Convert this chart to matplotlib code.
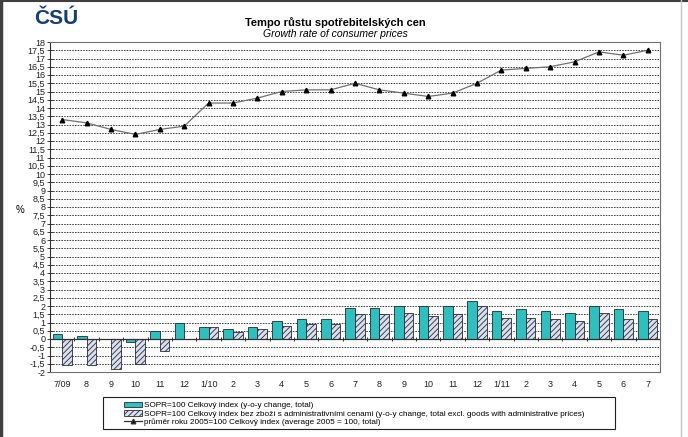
import numpy as np
import matplotlib
matplotlib.use("Agg")
import matplotlib.pyplot as plt
from matplotlib.patches import Patch, Rectangle
from matplotlib.lines import Line2D
from matplotlib.ticker import MultipleLocator, FuncFormatter

plt.rcParams['font.family'] = ['Liberation Sans', 'DejaVu Sans']
plt.rcParams['hatch.color'] = '#707888'
plt.rcParams['hatch.linewidth'] = 0.6

# data
months = ['7/09', '8', '9', '10', '11', '12', '1/10', '2', '3', '4', '5', '6',
          '7', '8', '9', '10', '11', '12', '1/11', '2', '3', '4', '5', '6', '7']
total_yoy = [0.3, 0.2, 0.0, -0.2, 0.5, 1.0, 0.7, 0.6, 0.7, 1.1, 1.2, 1.2,
             1.9, 1.9, 2.0, 2.0, 2.0, 2.3, 1.7, 1.8, 1.7, 1.6, 2.0, 1.8, 1.7]
excl_admin_yoy = [-1.6, -1.6, -1.8, -1.5, -0.7, 0.0, 0.7, 0.4, 0.6, 0.8, 0.9, 0.9,
                  1.5, 1.5, 1.6, 1.4, 1.5, 2.0, 1.3, 1.3, 1.2, 1.1, 1.6, 1.2, 1.2]
avg2005_total = [13.3, 13.1, 12.7, 12.4, 12.7, 12.9, 14.3, 14.3, 14.6, 15.0, 15.1, 15.1,
                 15.5, 15.1, 14.9, 14.7, 14.9, 15.5, 16.3, 16.4, 16.5, 16.8, 17.4, 17.2, 17.5]

labels = ['SOPR=100 Celkový index (y-o-y change, total)',
          'SOPR=100 Celkový index bez zboží s administrativními cenami '
          '(y-o-y change, total excl. goods with administrative prices)',
          'průměr roku 2005=100 Celkový index (average 2005 = 100, total)']

teal = '#2fbfbf'
hatch_fill = '#d8e0ee'

fig = plt.figure(figsize=(6.88, 4.37), dpi=100)
ax = fig.add_axes([50/688, 65/437, 610/688, 330/437])

x = np.arange(len(months))
w = 0.39
ax.bar(x - w/2, total_yoy, w, color=teal, edgecolor='#1a3030', linewidth=0.6, zorder=3)
ax.bar(x + w/2, excl_admin_yoy, w, color=hatch_fill, edgecolor='#2a2a3a',
       linewidth=0.6, hatch='//////', zorder=3)
ax.plot(x, avg2005_total, color='#707070', linewidth=0.9, marker='^',
        markersize=3.3, markerfacecolor='black', markeredgecolor='black', zorder=4)

ax.set_xlim(-0.5, len(months) - 0.5)
ax.set_ylim(-2, 18)
ax.yaxis.set_major_locator(MultipleLocator(0.5))
ax.yaxis.set_major_formatter(FuncFormatter(lambda v, p: ('%g' % v).replace('.', ',')))
ax.yaxis.grid(True, linestyle=(0, (1.6, 1.2)), color='#404040', linewidth=0.7)
ax.set_axisbelow(True)
ax.axhline(0, color='#303030', linewidth=0.9, zorder=3)
ax.vlines(x[:-1] + 0.5, -0.12, 0.12, color='#303030', linewidth=0.7, zorder=3)

ax.set_xticks(x)
ax.set_xticklabels(months)
ax.tick_params(axis='x', length=0, labelsize=6.5, pad=6, colors='#222222')
ax.tick_params(axis='y', direction='inout', length=5, width=0.6, labelsize=6.5,
               pad=1, colors='#222222')
for s in ax.spines.values():
    s.set_color('#707070')
    s.set_linewidth(0.8)
ax.spines['left'].set_color('#303030')

fig.text(20/688, 1 - 210/437, '%', fontsize=7, ha='center', va='center')

fig.text(335/688, 1 - 23/437, 'Tempo růstu spotřebitelských cen', fontsize=8,
         fontweight='bold', ha='center', va='center',
         family=['Liberation Sans Narrow', 'Liberation Sans', 'DejaVu Sans'])
fig.text(335/688, 1 - 34/437, 'Growth rate of consumer prices', fontsize=7.5,
         style='italic', ha='center', va='center')
fig.text(34/688, 1 - 18/437, 'ČSÚ', fontsize=15, fontweight='heavy',
         color='#173d73', ha='left', va='center')

# legend box
fig.add_artist(Rectangle((103/688, 1 - 429/437), 512/688, 32/437, transform=fig.transFigure,
                         facecolor='white', edgecolor='#202020', linewidth=0.8))
handles = [Patch(facecolor=teal, edgecolor='#1a3030', linewidth=0.6),
           Patch(facecolor=hatch_fill, edgecolor='#2a2a3a', linewidth=0.6, hatch='//////'),
           Line2D([], [], color='#303030', linewidth=0.9, marker='^', markersize=3.3,
                  markerfacecolor='black')]
leg = fig.legend(handles, labels, loc='upper left', bbox_to_anchor=(118/688, 1 - 396/437),
                 frameon=False, fontsize=5.9, handlelength=2.2, handleheight=0.7,
                 handletextpad=0.3, labelspacing=0.08, borderpad=0.2)

# window frame
fig.add_artist(Line2D([0.002, 0.002], [0, 1], color='#404040', linewidth=2.5))
fig.add_artist(Line2D([0, 1], [0.998, 0.998], color='#404040', linewidth=1.5))
fig.add_artist(Line2D([681/688, 681/688], [0, 1], color='#c8c8c8', linewidth=1))

fig.savefig('out.png', dpi=100, facecolor='white')
